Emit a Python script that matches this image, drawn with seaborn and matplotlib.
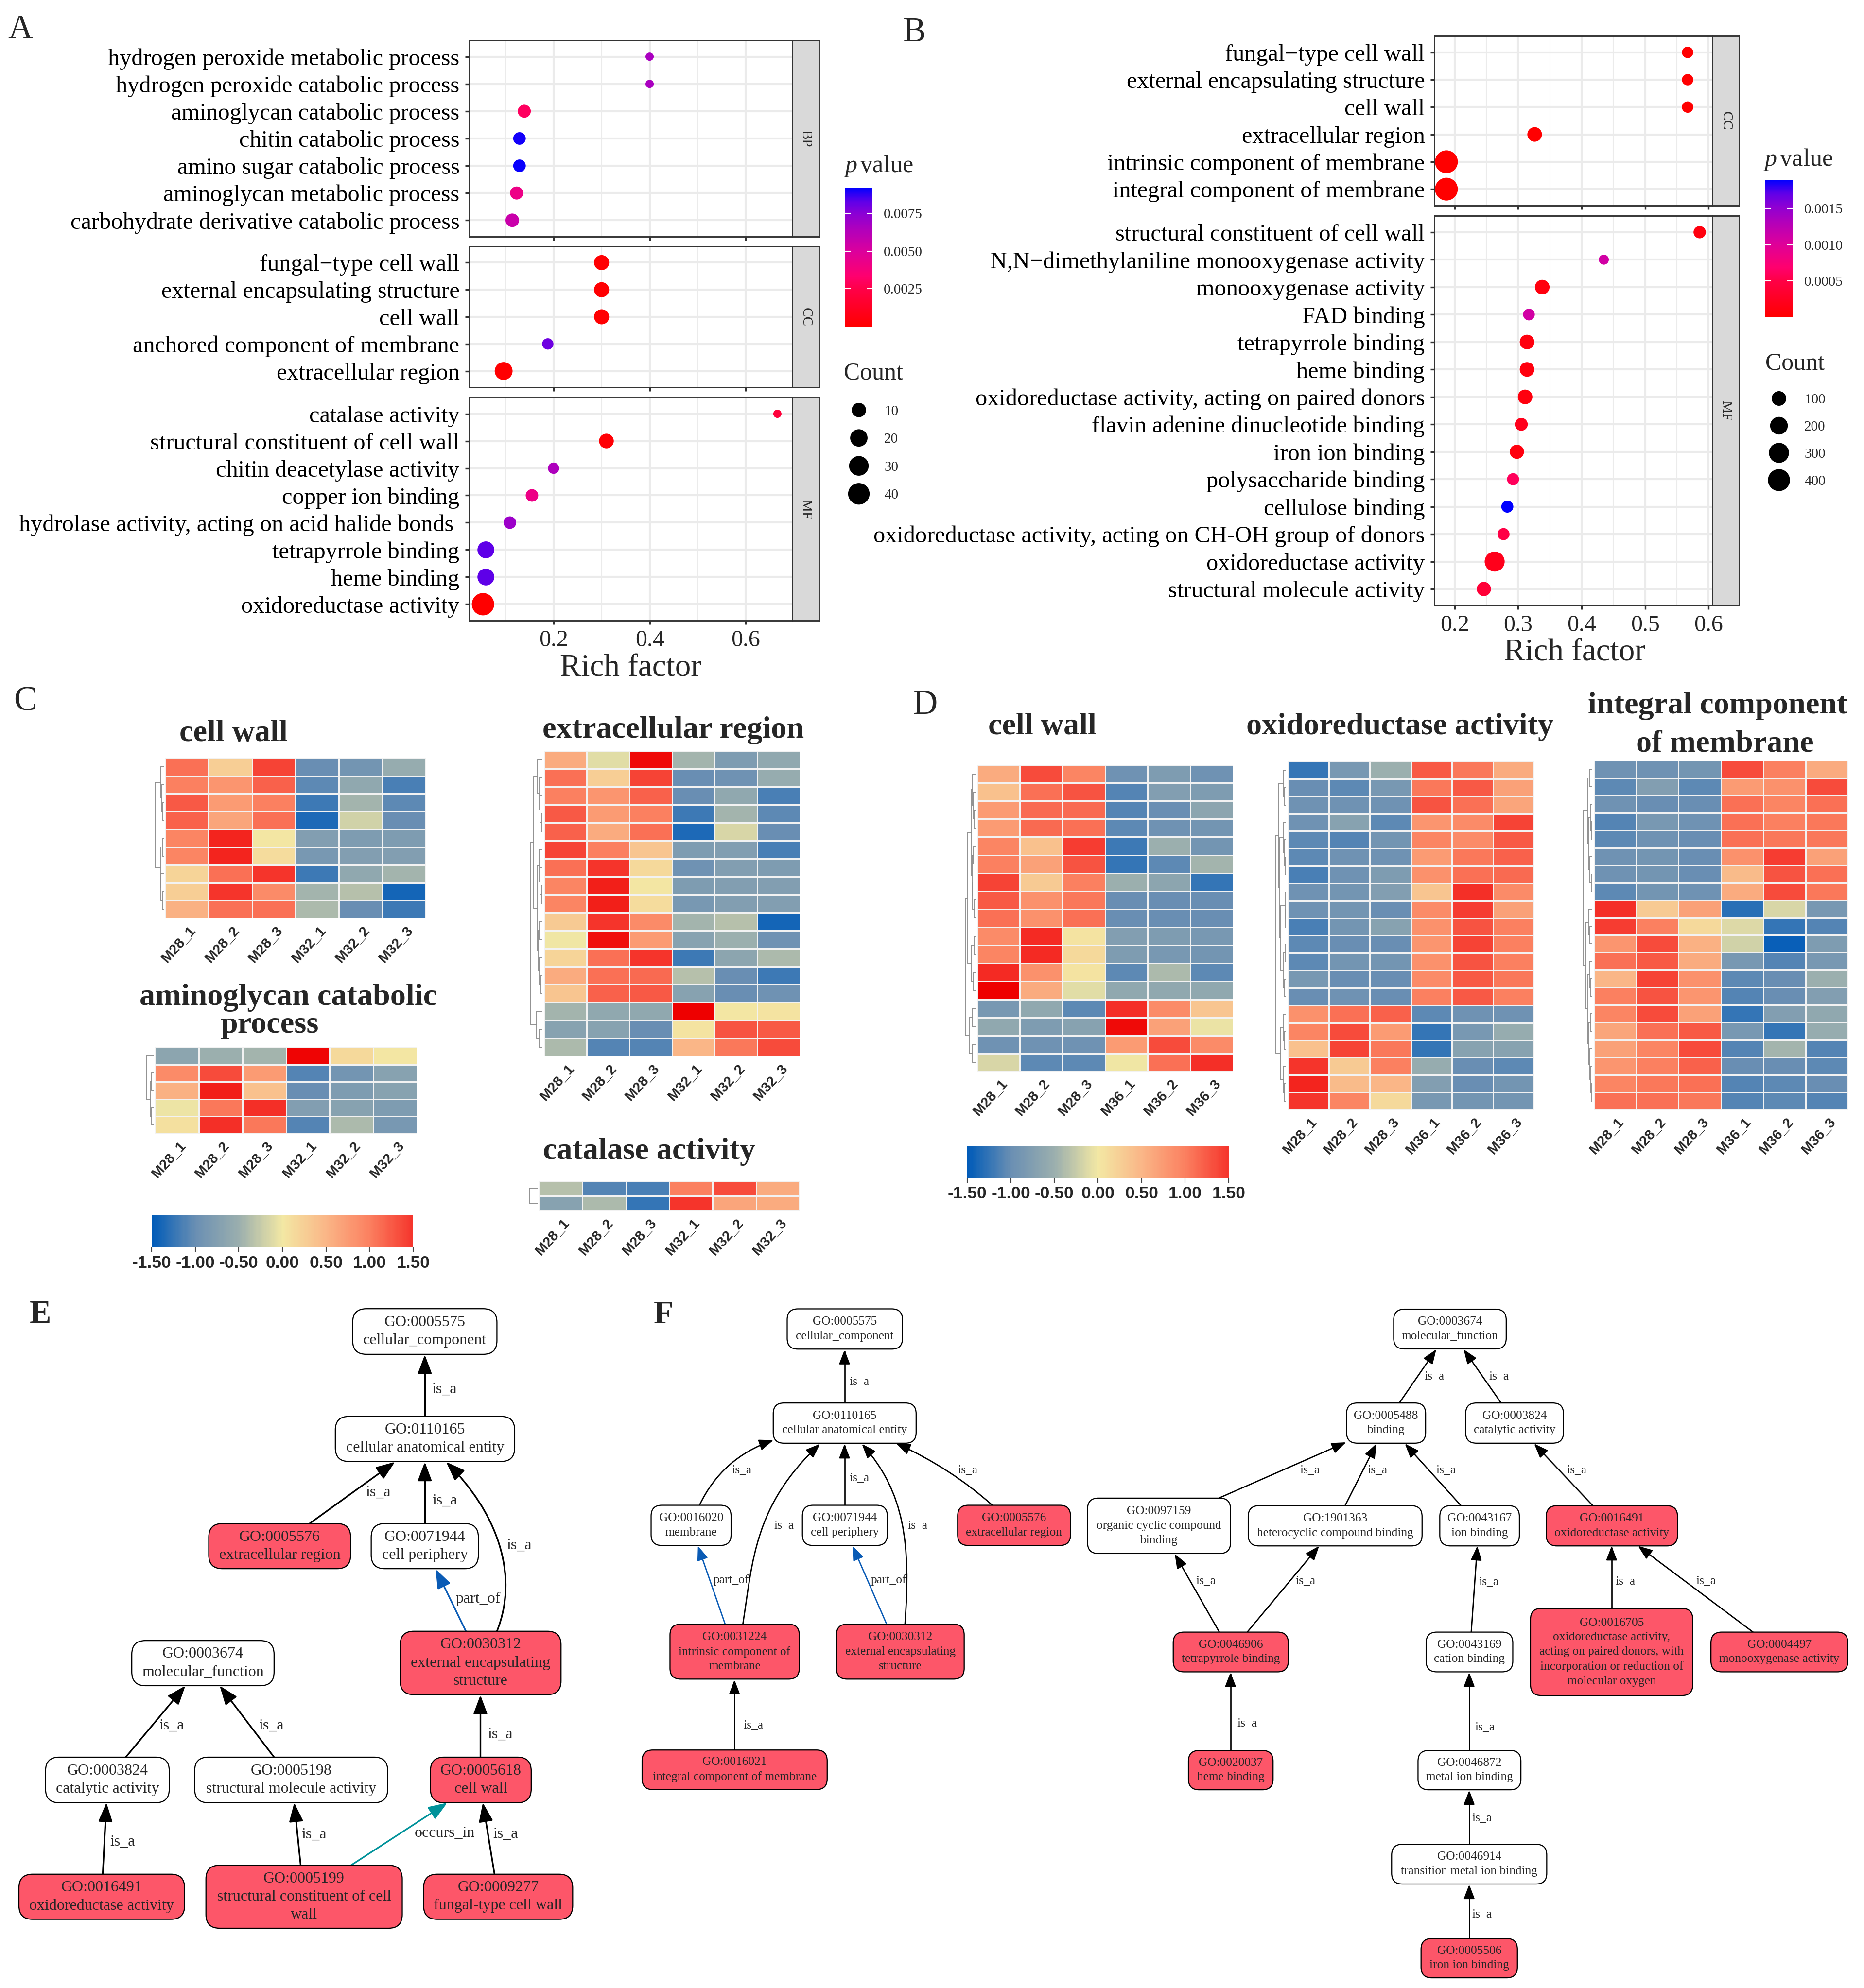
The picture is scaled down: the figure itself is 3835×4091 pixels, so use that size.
import numpy as np
import pandas as pd
import matplotlib
matplotlib.use('Agg')
import matplotlib.pyplot as plt
import seaborn as sns
from matplotlib.cm import ScalarMappable
from matplotlib.colors import LinearSegmentedColormap, Normalize
from matplotlib.patches import FancyArrowPatch, FancyBboxPatch
from matplotlib.path import Path
from matplotlib.transforms import ScaledTranslation

# ---- dot plots
A_BP = ['hydrogen peroxide metabolic process', 'hydrogen peroxide catabolic process', 'aminoglycan catabolic process',
        'chitin catabolic process', 'amino sugar catabolic process', 'aminoglycan metabolic process',
        'carbohydrate derivative catabolic process']
A_BP_RICH = [0.40, 0.40, 0.139, 0.129, 0.129, 0.123, 0.114]
A_BP_P = [0.0066, 0.0066, 0.0030, 0.0090, 0.0091, 0.0042, 0.0056]
A_BP_N = [2, 2, 7, 6, 6, 7, 8]

A_CC = ['fungal\u2212type cell wall', 'external encapsulating structure', 'cell wall',
        'anchored component of membrane', 'extracellular region']
A_CC_RICH = [0.30, 0.30, 0.30, 0.188, 0.096]
A_CC_P = [0.0001, 0.0001, 0.0001, 0.0080, 0.0001]
A_CC_N = [12, 12, 12, 4, 22]

A_MF = ['catalase activity', 'structural constituent of cell wall', 'chitin deacetylase activity', 'copper ion binding',
        'hydrolase activity, acting on acid halide bonds ', 'tetrapyrrole binding', 'heme binding', 'oxidoreductase activity']
A_MF_RICH = [0.666, 0.31, 0.20, 0.155, 0.109, 0.059, 0.059, 0.053]
A_MF_P = [0.0020, 0.0002, 0.0065, 0.0042, 0.0070, 0.0083, 0.0083, 0.0]
A_MF_N = [2, 11, 4, 6, 6, 18, 18, 45]

B_CC = ['fungal\u2212type cell wall', 'external encapsulating structure', 'cell wall', 'extracellular region',
        'intrinsic component of membrane', 'integral component of membrane']
B_CC_RICH = [0.567, 0.567, 0.567, 0.326, 0.187, 0.187]
B_CC_P = [0.00001, 0.00001, 0.00001, 0.00001, 0.0, 0.0]
B_CC_N = [35, 35, 35, 100, 450, 450]

B_MF = ['structural constituent of cell wall', 'N,N\u2212dimethylaniline monooxygenase activity', 'monooxygenase activity',
        'FAD binding', 'tetrapyrrole binding', 'heme binding', 'oxidoreductase activity, acting on paired donors',
        'flavin adenine dinucleotide binding', 'iron ion binding', 'polysaccharide binding', 'cellulose binding',
        'oxidoreductase activity, acting on CH-OH group of donors', 'oxidoreductase activity', 'structural molecule activity']
B_MF_RICH = [0.586, 0.435, 0.338, 0.317, 0.314, 0.314, 0.311, 0.305, 0.298, 0.292, 0.283, 0.277, 0.263, 0.246]
B_MF_P = [0.0001, 0.0011, 0.0001, 0.0011, 0.0001, 0.0001, 0.0001, 0.0002, 0.0001, 0.0006, 0.0019, 0.0005, 0.0002, 0.0004]
B_MF_N = [50, 20, 100, 40, 100, 100, 100, 60, 90, 45, 45, 45, 300, 90]

A_LEG = [10, 20, 30, 40]
B_LEG = [100, 200, 300, 400]
A_P_TICKS = [0.0025, 0.0050, 0.0075]
B_P_TICKS = [0.0005, 0.0010, 0.0015]

# ---- heatmaps (row z scores)
M32 = ['M28_1', 'M28_2', 'M28_3', 'M32_1', 'M32_2', 'M32_3']
M36 = ['M28_1', 'M28_2', 'M28_3', 'M36_1', 'M36_2', 'M36_3']
HEAT_TICKS = [-1.5, -1.0, -0.5, 0.0, 0.5, 1.0, 1.5]

C_WALL = [[1.1, .25, 1.4, -1.0, -.9, -.55], [1.0, .8, 1.2, -1.05, -.6, -1.15], [1.25, .75, 1.0, -1.2, -.45, -1.05],
          [1.2, .65, 1.1, -1.35, -.2, -1.0], [.95, 1.65, .02, -.75, -.8, -.8], [.95, 1.65, .12, -.85, -.75, -.75],
          [.2, 1.1, 1.5, -1.2, -.6, -.45], [.25, 1.5, .9, -.45, -.35, -1.4], [.55, 1.1, 1.1, -.4, -1.0, -1.2]]
C_EXTRA = [[.6, -.1, 1.9, -.45, -.8, -.6], [1.1, .25, 1.4, -1.0, -.95, -.55], [1.0, .8, 1.2, -1.0, -.6, -1.15],
           [1.25, .75, 1.0, -1.2, -.45, -1.05], [1.2, .6, 1.1, -1.35, -.15, -1.0], [1.4, 1.0, .35, -.8, -.75, -1.15],
           [1.1, 1.5, .15, -.95, -.75, -.8], [.95, 1.7, .02, -.8, -.75, -.75], [.95, 1.7, .12, -.85, -.75, -.75],
           [.3, 1.5, .9, -.45, -.35, -1.4], [-.02, 1.85, .75, -.7, -.5, -.95], [.2, 1.1, 1.5, -1.2, -.65, -.4],
           [.6, 1.1, 1.15, -.35, -1.0, -1.2], [.35, 1.2, 1.25, -.7, -1.0, -.95], [-.45, -.6, -.6, 2.0, .02, .05],
           [-.7, -.7, -1.0, .05, 1.3, 1.25], [-.4, -1.1, -1.1, .5, 1.05, 1.35]]
C_AMINO = [[-.65, -.5, -.45, 1.95, .15, .03], [.9, 1.35, .75, -1.1, -.9, -.7], [.55, 1.7, .4, -1.0, -.8, -.7],
           [-.03, 1.05, 1.55, -.75, -.7, -.8], [.08, 1.55, 1.05, -1.1, -.4, -.85]]
C_CAT = [[-.35, -1.1, -1.15, 1.0, 1.35, .6], [-.7, -.4, -1.25, 1.5, .65, .6]]

D_WALL = [[.6, 1.35, .95, -.95, -.8, -.95], [.4, 1.1, 1.3, -1.1, -.75, -.8], [.75, 1.15, 1.15, -1.1, -1.0, -.65],
          [.75, 1.15, 1.1, -1.05, -.95, -.9], [.95, .4, 1.45, -1.2, -.5, -.9], [1.0, .7, 1.3, -1.25, -1.05, -.45],
          [1.4, .3, 1.0, -.5, -.65, -1.25], [1.25, .85, 1.05, -1.0, -1.0, -1.0], [1.1, .85, 1.1, -1.0, -1.0, -1.0],
          [.9, 1.6, .05, -.75, -.8, -.85], [.95, 1.6, .15, -.8, -.85, -.9], [1.6, .85, .05, -1.05, -.4, -1.05],
          [2.0, .6, -.1, -.6, -.6, -.6], [-.85, -.6, -1.05, 1.55, .9, .35], [-.6, -.8, -.7, 1.9, .7, -.05],
          [-.95, -.95, -.95, .75, 1.35, .9], [-.15, -1.05, -1.05, -.02, 1.1, 1.55]]
D_OXI = [[-1.25, -.85, -.5, 1.25, 1.05, .6], [-1.0, -1.05, -.85, 1.05, 1.25, .7], [-.95, -.95, -.95, 1.3, 1.1, .65],
         [-.95, -.7, -1.05, .8, .9, 1.4], [-1.05, -1.1, -.9, .95, .9, 1.25], [-1.05, -.95, -.95, .75, 1.05, 1.2],
         [-1.15, -.95, -.8, .85, 1.1, 1.15], [-.95, -.9, -.75, .35, 1.55, .9], [-.95, -.9, -1.0, .9, 1.45, .7],
         [-1.15, -.9, -.7, .85, 1.3, 1.0], [-1.05, -1.0, -1.0, .8, 1.4, 1.0], [-1.05, -.9, -.9, .85, 1.3, 1.0],
         [-.85, -1.0, -1.0, .9, 1.25, 1.05], [-1.0, -.95, -1.0, 1.0, 1.25, 1.0], [.85, 1.1, 1.2, -1.05, -.95, -.95],
         [.95, 1.35, .75, -1.25, -.85, -.55], [.4, 1.4, 1.05, -1.25, -.7, -.7], [1.5, .3, 1.0, -.55, -1.0, -1.05],
         [1.65, .45, .5, -.75, -1.0, -.9], [1.5, .95, .15, -.85, -.9, -.9]]
D_INT = [[-.95, -.95, -.9, 1.35, 1.0, .6], [-1.05, -.75, -1.05, .75, .85, 1.35], [-.95, -1.0, -1.0, 1.1, .95, 1.1],
         [-1.1, -.85, -.95, 1.1, 1.0, 1.05], [-1.05, -.95, -1.0, 1.1, 1.05, 1.05], [-.95, -.9, -1.0, .85, 1.45, .7],
         [-.95, -.9, -1.0, .45, 1.3, 1.1], [-1.05, -.9, -.95, .6, 1.35, 1.05], [1.55, .3, .7, -1.3, -.15, -.85],
         [1.45, 1.0, .15, -.12, -1.25, -1.1], [.8, 1.35, .55, -.2, -1.45, -.8], [1.1, 1.25, .6, -.85, -1.1, -.85],
         [.5, 1.4, .85, -1.05, -1.0, -.5], [1.0, 1.3, .8, -1.1, -1.0, -.75], [.95, 1.35, .7, -1.25, -.75, -.6],
         [.65, 1.1, 1.25, -.85, -1.25, -.55], [.7, .95, 1.35, -1.1, -.45, -1.1], [.8, 1.0, 1.2, -1.0, -1.0, -1.05],
         [.95, 1.05, 1.1, -1.1, -1.05, -1.0], [1.1, 1.1, 1.05, -1.1, -1.05, -1.1]]

# dendrograms: (height, left, right), leaves are row numbers
T_C_WALL = (1, (.35, 0, (.22, 1, (.12, 2, 3))), (.4, (.12, 4, 5), (.3, 6, (.15, 7, 8))))
T_C_EXTRA = (1, (.75, (.4, 0, (.3, 1, (.2, 2, (.1, 3, 4)))),
                 (.45, (.3, 5, (.2, 6, (.1, 7, 8))), (.35, (.25, 9, 10), (.25, 11, (.12, 12, 13))))),
             (.5, 14, (.3, 15, 16)))
T_C_AMINO = (1, 0, (.5, (.3, 1, 2), (.25, 3, 4)))
T_C_CAT = (1, 0, 1)
T_D_WALL = (1, (.75, (.4, (.3, 0, (.2, 1, (.15, 2, 3))), (.35, (.2, 4, 5), (.3, 6, (.15, 7, 8)))),
                (.4, (.12, 9, 10), (.2, 11, 12))), (.6, (.35, 13, 14), (.3, 15, 16)))
T_D_OXI = (1, (.7, (.3, 0, (.2, 1, 2)), (.6, (.25, 3, (.15, 4, (.1, 5, 6))),
                                         (.5, (.1, 7, (.08, 8, 9)), (.3, (.1, 10, 11), (.12, 12, 13))))),
           (.55, (.3, 14, (.2, 15, 16)), (.3, 17, (.2, 18, 19))))
T_D_INT = (1, (.5, (.3, 0, 1), (.4, (.2, 2, (.1, 3, 4)), (.25, 5, (.12, 6, 7)))),
           (.7, (.4, 8, (.25, 9, 10)), (.5, (.3, 11, (.2, 12, 13)),
                                        (.35, (.2, 14, 15), (.25, 16, (.15, 17, (.1, 18, 19)))))))

# ---- GO graphs: text of each node, and which ones are enriched
GO_TEXT = {
    '0005575': 'cellular_component', '0110165': 'cellular anatomical entity', '0005576': 'extracellular region',
    '0071944': 'cell periphery', '0030312': 'external encapsulating\nstructure', '0003674': 'molecular_function',
    '0003824': 'catalytic activity', '0005198': 'structural molecule activity', '0005618': 'cell wall',
    '0016491': 'oxidoreductase activity', '0005199': 'structural constituent of cell\nwall', '0009277': 'fungal-type cell wall',
    '0016020': 'membrane', '0031224': 'intrinsic component of\nmembrane', '0016021': 'integral component of membrane',
    '0005488': 'binding', '0097159': 'organic cyclic compound\nbinding', '1901363': 'heterocyclic compound binding',
    '0043167': 'ion binding', '0046906': 'tetrapyrrole binding', '0043169': 'cation binding',
    '0016705': 'oxidoreductase activity,\nacting on paired donors, with\nincorporation or reduction of\nmolecular oxygen',
    '0004497': 'monooxygenase activity', '0020037': 'heme binding', '0046872': 'metal ion binding',
    '0046914': 'transition metal ion binding', '0005506': 'iron ion binding'}
GO_RED = ['0005576', '0030312', '0005618', '0016491', '0005199', '0009277', '0031224', '0016021', '0046906',
          '0016705', '0004497', '0020037', '0005506']

sns.set_style('white')
plt.rcParams['font.family'] = ['Liberation Serif', 'DejaVu Serif']
plt.rcParams['mathtext.fontset'] = 'custom'
plt.rcParams['mathtext.it'] = 'Liberation Serif:italic'
plt.rcParams['mathtext.rm'] = 'Liberation Serif'

W, H = 3835, 4091
fig = plt.figure(figsize=(W / 300 + 1e-4, H / 300 + 1e-4), dpi=300)

P_CMAP = LinearSegmentedColormap.from_list('pval', [(0, '#FF0000'), (.27, '#FF0048'), (.36, '#FF006E'), (.54, '#DC009C'),
                                                    (.7, '#B000BC'), (.81, '#8C00D4'), (.9, '#6000E8'), (1, '#0000FF')])
HEAT = LinearSegmentedColormap.from_list('heat', [(0, '#005BB8'), (.5 / 3.5, '#6A8FB3'), (1 / 3.5, '#9BAFAE'), (1.5 / 3.5, '#F3E8A4'),
                                                  (2 / 3.5, '#FAB687'), (2.5 / 3.5, '#FB8060'), (3 / 3.5, '#F5352C'), (1, '#EE0000')])
DARK = '#333333'


def px_axes(x0, y0, x1, y1, **kw):
    return fig.add_axes([x0 / W, 1 - y1 / H, (x1 - x0) / W, (y1 - y0) / H], **kw)


back = px_axes(0, 0, W, H)
back.set_xlim(0, W)
back.set_ylim(H, 0)
back.axis('off')


def label(x, y, s, size, **kw):
    kw.setdefault('ha', 'center')
    kw.setdefault('va', 'center')
    back.text(x, y, s, fontsize=size, **kw)


def size_table(counts, low, high, dmin, dmax):
    # same shape as ggplot's scale_size, diameters given in pixels
    table = {}
    for c in set(counts):
        d = dmin + (dmax - dmin) * np.sqrt((c - low) / (high - low))
        table[c] = (d * 72 / 300) ** 2
    return table


def dot_panel(box, strip_right, terms, rich, pvals, counts, pmax, sizes, xlim, major, minor, strip):
    ax = px_axes(*box)
    df = pd.DataFrame({'term': terms, 'rich': rich, 'p': pvals, 'count': counts})
    sns.scatterplot(data=df, x='rich', y='term', hue='p', hue_norm=(0, pmax), palette=P_CMAP, size='count',
                    sizes={c: sizes[c] for c in set(counts)}, legend=False, linewidth=0, ax=ax, zorder=3, clip_on=False)
    ax.set(xlabel='', ylabel='', xlim=xlim, ylim=(len(terms) - 0.4, -0.6))
    ax.set_xticks(major)
    ax.set_xticks(minor, minor=True)
    ax.grid(True, which='major', color='#EBEBEB', lw=1.0)
    ax.grid(True, which='minor', axis='x', color='#EBEBEB', lw=0.5)
    ax.set_axisbelow(True)
    ax.tick_params(axis='y', left=True, length=2, width=0.8, color=DARK, pad=2.7, labelsize=11.6, labelcolor='black')
    ax.tick_params(axis='x', which='major', bottom=True, length=2, width=0.8, color=DARK, pad=2.5, labelsize=11.5)
    ax.tick_params(axis='x', which='minor', bottom=False)
    for sp in ax.spines.values():
        sp.set_color(DARK)
        sp.set_linewidth(0.7)
        sp.set_visible(True)
    st = px_axes(box[2], box[1], strip_right, box[3], facecolor='#D9D9D9')
    st.set_xticks([])
    st.set_yticks([])
    for sp in st.spines.values():
        sp.set_color(DARK)
        sp.set_linewidth(0.7)
        sp.set_visible(True)
    st.text(0.5, 0.5, strip, rotation=-90, ha='center', va='center', fontsize=7, transform=st.transAxes)
    return ax


def p_colorbar(box, pmax, ticks):
    cax = px_axes(*box)
    cb = fig.colorbar(ScalarMappable(Normalize(0, pmax), P_CMAP), cax=cax)
    cb.outline.set_visible(False)
    cb.set_ticks(ticks)
    cb.ax.set_yticklabels(['%.4f' % t for t in ticks])
    cb.ax.tick_params(length=0, pad=5.8, labelsize=7)
    cb.ax.hlines(ticks, 0, .2, color='white', lw=0.5)
    cb.ax.hlines(ticks, .8, 1, color='white', lw=0.5)


def count_legend(box, levels, sizes):
    ax = px_axes(*box)
    ax.patch.set_alpha(0)
    df = pd.DataFrame({'x': [0] * len(levels), 'row': range(len(levels)), 'count': levels})
    sns.scatterplot(data=df, x='x', y='row', size='count', sizes={c: sizes[c] for c in levels}, color='black',
                    legend=False, linewidth=0, ax=ax, clip_on=False)
    ax.set(xlabel='', ylabel='', xlim=(-1, 1), ylim=(len(levels) - .5, -.5))
    ax.set_xticks([])
    ax.set_yticks(range(len(levels)))
    ax.set_yticklabels(levels)
    ax.yaxis.tick_right()
    ax.tick_params(length=0, pad=5.8, labelsize=7)
    for sp in ax.spines.values():
        sp.set_visible(False)


def draw_tree(ax, node):
    if isinstance(node, int):
        return node + .5, 0
    h, left, right = node
    yl, hl = draw_tree(ax, left)
    yr, hr = draw_tree(ax, right)
    ax.plot([hl, h, h, hr], [yl, yl, yr, yr], color='#8C8C8C', lw=0.45, solid_joinstyle='miter')
    return (yl + yr) / 2, h


def heat_panel(box, rows, names, tree, tree_w):
    ax = px_axes(*box)
    sns.heatmap(pd.DataFrame(rows, columns=names), ax=ax, cmap=HEAT, vmin=-1.5, vmax=2.0, cbar=False,
                linewidths=0.6, linecolor='#F2F2F2', yticklabels=False)
    ax.set_xticklabels(names, rotation=48, ha='right', va='center', rotation_mode='anchor',
                       fontsize=7, fontweight='bold', family=['Liberation Sans'])
    ax.tick_params(axis='x', length=0, pad=4.8)
    shift = ScaledTranslation(3.1 / 72, 0, fig.dpi_scale_trans)
    for tl in ax.get_xticklabels():
        tl.set_transform(tl.get_transform() + shift)
    den = px_axes(box[0] - tree_w - 3, box[1], box[0] - 3, box[3])
    draw_tree(den, tree)
    den.set_xlim(1.03, 0)
    den.set_ylim(len(rows), 0)
    den.axis('off')


def heat_colorbar(box):
    cax = px_axes(*box)
    cb = fig.colorbar(ScalarMappable(Normalize(-1.5, 2.0), HEAT), cax=cax, orientation='horizontal',
                      boundaries=np.linspace(-1.5, 1.5, 256))
    cb.outline.set_visible(False)
    cb.set_ticks(HEAT_TICKS)
    cb.ax.set_xticklabels(['%.2f' % t for t in HEAT_TICKS], fontsize=8.5, fontweight='bold', family=['Liberation Sans'])
    cb.ax.tick_params(length=2.4, width=0.5, pad=1.5, color='#444444')


def go_node(key, box, tr, size, radius, spacing):
    x0, y0, x1, y1 = tr(box)
    fill = '#FD5669' if key in GO_RED else 'white'
    back.add_patch(FancyBboxPatch((x0, y0), x1 - x0, y1 - y0, boxstyle='round,pad=0,rounding_size=%g' % radius,
                                  fc=fill, ec='black', lw=0.55, zorder=2))
    back.text((x0 + x1) / 2, (y0 + y1) / 2, 'GO:%s\n%s' % (key, GO_TEXT[key]), ha='center', va='center',
              multialignment='center', fontsize=size, linespacing=spacing, zorder=3)


def go_edge(pts, tr, color, lw, head):
    xy = [(tr((p[0], p[1], p[0], p[1]))[0], tr((p[0], p[1], p[0], p[1]))[1]) for p in pts]
    if len(xy) == 2:
        path = Path(xy, [Path.MOVETO, Path.LINETO])
    elif len(xy) == 3:
        path = Path(xy, [Path.MOVETO, Path.CURVE3, Path.CURVE3])
    else:
        path = Path(xy, [Path.MOVETO, Path.CURVE4, Path.CURVE4, Path.CURVE4])
    back.add_patch(FancyArrowPatch(path=path, arrowstyle='-|>,head_length=%g,head_width=%g' % head, mutation_scale=1,
                                   color=color, lw=lw, shrinkA=0, shrinkB=0, zorder=1))


def crop(sx, sy, ox, oy):
    # graph layouts below were measured on crops of the page
    return lambda b: (ox + b[0] / sx, oy + b[1] / sy, ox + b[2] / sx, oy + b[3] / sy)


# ---- panel A
SIZES_A = size_table(A_BP_N + A_CC_N + A_MF_N + A_LEG, 2, 45, 17, 46)
XA = (0.024, 0.697)
dot_panel((965, 83, 1630, 487), 1685, A_BP, A_BP_RICH, A_BP_P, A_BP_N, 0.0092, SIZES_A, XA, [.2, .4, .6], [.1, .3, .5], 'BP').set_xticklabels([])
dot_panel((965, 507, 1630, 797), 1685, A_CC, A_CC_RICH, A_CC_P, A_CC_N, 0.0092, SIZES_A, XA, [.2, .4, .6], [.1, .3, .5], 'CC').set_xticklabels([])
dot_panel((965, 818, 1630, 1277), 1685, A_MF, A_MF_RICH, A_MF_P, A_MF_N, 0.0092, SIZES_A, XA, [.2, .4, .6], [.1, .3, .5], 'MF')
label(1297, 1376, 'Rich factor', 15.6)
label(1736, 341, r'$\mathit{p}\,$value', 12, ha='left')
p_colorbar((1739, 386, 1794, 672), 0.0092, A_P_TICKS)
label(1736, 768, 'Count', 12, ha='left')
count_legend((1739, 815, 1795, 1045), A_LEG, SIZES_A)

# ---- panel B
SIZES_B = size_table(B_CC_N + B_MF_N + B_LEG, 10, 450, 16, 47)
XB = (0.168, 0.606)
TICKS_B = [.2, .3, .4, .5, .6]
MINOR_B = [.25, .35, .45, .55]
dot_panel((2951, 74, 3523, 423), 3578, B_CC, B_CC_RICH, B_CC_P, B_CC_N, 0.0019, SIZES_B, XB, TICKS_B, MINOR_B, 'CC').set_xticklabels([])
dot_panel((2951, 444, 3523, 1246), 3578, B_MF, B_MF_RICH, B_MF_P, B_MF_N, 0.0019, SIZES_B, XB, TICKS_B, MINOR_B, 'MF')
label(3239, 1344, 'Rich factor', 15.6)
label(3628, 328, r'$\mathit{p}\,$value', 12, ha='left')
p_colorbar((3632, 370, 3688, 652), 0.0019, B_P_TICKS)
label(3632, 748, 'Count', 12, ha='left')
count_legend((3632, 792, 3688, 1016), B_LEG, SIZES_B)

# ---- panel C
heat_panel((340, 1560, 876, 1890), C_WALL, M32, T_C_WALL, 19)
heat_panel((1119, 1545, 1646, 2174), C_EXTRA, M32, T_C_EXTRA, 25)
heat_panel((319, 2155, 858, 2333), C_AMINO, M32, T_C_AMINO, 15)
heat_panel((1109, 2430, 1645, 2492), C_CAT, M32, T_C_CAT, 18)
heat_colorbar((312, 2500, 850, 2567))
TITLE = dict(fontweight='bold')
label(480, 1510, 'cell wall', 15.4, **TITLE)
label(1385, 1503, 'extracellular region', 15.4, **TITLE)
label(593, 2053, 'aminoglycan catabolic', 15.4, **TITLE)
label(554, 2110, 'process', 15.4, **TITLE)
label(1336, 2370, 'catalase activity', 15.4, **TITLE)

# ---- panel D
heat_panel((2010, 1574, 2537, 2205), D_WALL, M36, T_D_WALL, 22)
heat_panel((2649, 1567, 3156, 2284), D_OXI, M36, T_D_OXI, 22)
heat_panel((3279, 1565, 3802, 2284), D_INT, M36, T_D_INT, 20)
heat_colorbar((1990, 2358, 2528, 2424))
label(2144, 1496, 'cell wall', 15.4, **TITLE)
label(2880, 1496, 'oxidoreductase activity', 15.4, **TITLE)
label(3534, 1453, 'integral component', 15.4, **TITLE)
label(3549, 1531, 'of membrane', 15.4, **TITLE)

# ---- panel E
BLK, BLUE, TEAL = 'black', '#0A5BB5', '#00929A'
tr_e = crop(1.206, 1.088, 0, 2650)
for key, box in [('0005575', (875, 47, 1233, 149)), ('0110165', (832, 288, 1277, 389)), ('0005576', (518, 528, 870, 629)),
                 ('0071944', (921, 528, 1187, 629)), ('0030312', (993, 769, 1392, 911)), ('0003674', (327, 790, 680, 891)),
                 ('0003824', (113, 1051, 420, 1153)), ('0005198', (483, 1051, 962, 1153)), ('0005618', (1068, 1051, 1318, 1153)),
                 ('0016491', (47, 1313, 458, 1414)), ('0005199', (511, 1293, 998, 1434)), ('0009277', (1051, 1313, 1421, 1414))]:
    go_node(key, box, tr_e, 7.7, 28, 1.37)
for pts, col in [([(1054, 288), (1054, 150)], BLK), ([(768, 528), (980, 390)], BLK), ([(1054, 528), (1054, 390)], BLK),
                 ([(1233, 769), (1290, 640), (1230, 500), (1107, 390)], BLK), ([(1156, 769), (1081, 630)], BLUE),
                 ([(1192, 1051), (1192, 912)], BLK), ([(1227, 1313), (1198, 1153)], BLK), ([(871, 1293), (1110, 1153)], TEAL),
                 ([(746, 1293), (730, 1153)], BLK), ([(255, 1313), (264, 1153)], BLK), ([(312, 1051), (460, 891)], BLK),
                 ([(680, 1051), (545, 891)], BLK)]:
    go_edge(pts, tr_e, col, 0.8, (8, 3))
for txt, x, y in [('is_a', 1102, 228), ('is_a', 938, 458), ('is_a', 1104, 477), ('is_a', 1288, 577), ('part_of', 1186, 697),
                  ('is_a', 1241, 1000), ('is_a', 426, 981), ('is_a', 673, 981), ('occurs_in', 1104, 1221), ('is_a', 1254, 1223),
                  ('is_a', 779, 1224), ('is_a', 304, 1241)]:
    p = tr_e((x, y, x, y))
    label(p[0], p[1], txt, 7.7)

# ---- panel F
tr_f = crop(1.568, 1.4255, 1300, 2650)
for key, box in [('0005575', (501, 62, 873, 180)), ('0110165', (456, 338, 917, 456)), ('0016020', (62, 638, 320, 756)),
                 ('0071944', (550, 638, 824, 756)), ('0005576', (1051, 638, 1415, 756)), ('0031224', (123, 987, 540, 1148)),
                 ('0030312', (660, 987, 1072, 1148)), ('0016021', (33, 1356, 630, 1472))]:
    go_node(key, box, tr_f, 6.1, 22, 1.45)
for pts, col in [([(686, 338), (686, 182)], BLK), ([(218, 638), (290, 500), (457, 447)], BLK),
                 ([(358, 987), (390, 800), (395, 638), (607, 458)], BLK), ([(686, 638), (686, 458)], BLK),
                 ([(881, 987), (900, 750), (880, 600), (742, 458)], BLK), ([(1163, 638), (1030, 530), (852, 456)], BLK),
                 ([(301, 987), (213, 757)], BLUE), ([(822, 987), (712, 757)], BLUE), ([(331, 1356), (331, 1150)], BLK)]:
    go_edge(pts, tr_f, col, 0.65, (6, 2.3))
for txt, x, y in [('is_a', 733, 275), ('is_a', 355, 535), ('is_a', 490, 697), ('is_a', 733, 558), ('is_a', 922, 697),
                  ('is_a', 1083, 535), ('part_of', 321, 858), ('part_of', 828, 858), ('is_a', 392, 1283)]:
    p = tr_f((x, y, x, y))
    label(p[0], p[1], txt, 6.1)

tr_g = crop(0.959, 1.088, 2200, 2650)
for key, box in [('0003674', (640, 48, 862, 137)), ('0005488', (547, 258, 703, 348)), ('0003824', (782, 258, 975, 348)),
                 ('0097159', (36, 471, 318, 595)), ('1901363', (353, 488, 696, 578)), ('0043167', (731, 488, 888, 578)),
                 ('0016491', (941, 488, 1200, 578)), ('0046906', (205, 771, 432, 860)), ('0043169', (704, 771, 875, 860)),
                 ('0016705', (910, 718, 1230, 913)), ('0004497', (1266, 771, 1536, 860)), ('0020037', (235, 1036, 402, 1124)),
                 ('0046872', (688, 1036, 891, 1124)), ('0046914', (636, 1246, 942, 1335)), ('0005506', (694, 1457, 884, 1545))]:
    go_node(key, box, tr_g, 6.1, 22, 1.45)
for pts in [[(651, 258), (724, 138)], [(852, 258), (778, 138)], [(297, 470), (546, 346)], [(544, 488), (606, 349)],
            [(773, 488), (662, 349)], [(1033, 488), (917, 349)], [(296, 771), (208, 596)], [(351, 771), (493, 578)],
            [(793, 771), (805, 578)], [(1070, 718), (1070, 578)], [(1349, 771), (1122, 578)], [(318, 1036), (318, 861)],
            [(789, 1036), (789, 861)], [(789, 1246), (789, 1125)], [(789, 1457), (789, 1336)]]:
    go_edge(pts, tr_g, BLK, 0.65, (6, 2.3))
for x, y in [(720, 198), (848, 198), (475, 408), (608, 408), (743, 408), (1001, 408), (269, 656), (466, 656), (828, 658),
             (1097, 657), (1256, 656), (351, 975), (820, 983), (814, 1187), (814, 1402)]:
    p = tr_g((x, y, x, y))
    label(p[0], p[1], 'is_a', 6.1)

# ---- panel letters
label(42, 61, 'A', 17)
label(1882, 67, 'B', 17)
label(52, 1444, 'C', 17)
label(1904, 1451, 'D', 17)
label(83, 2705, 'E', 16, fontweight='bold')
label(1365, 2706, 'F', 16, fontweight='bold')

fig.savefig('out.png', dpi=300)
